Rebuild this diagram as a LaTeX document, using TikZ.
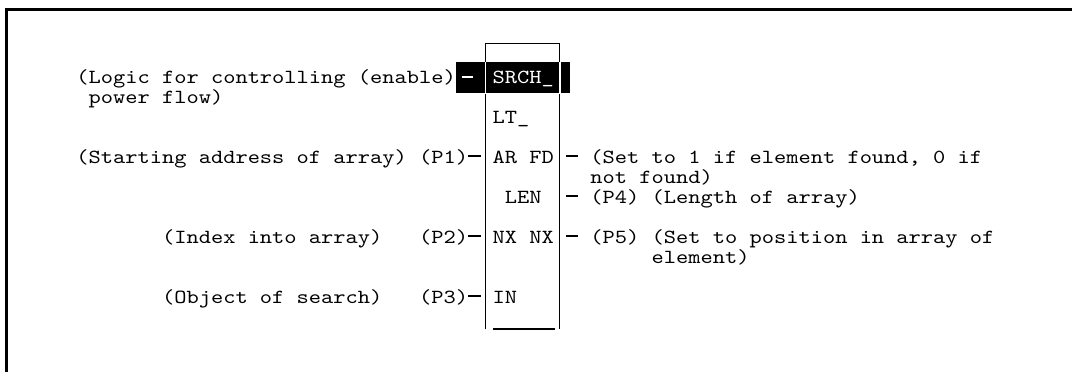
\documentclass[tikz,border=0pt]{standalone}
\usepackage{fontspec}
\newfontfamily\plcfont[FakeStretch=1.1657]{Latin Modern Mono}
\usepackage{tikz}
\usetikzlibrary{positioning,calc}

\begin{document}
\begin{tikzpicture}[
  x=6.12pt, y=-10pt,
  font=\plcfont\fontsize{10}{10}\selectfont,
  txt/.style={anchor=base west, inner sep=0pt},
  pin/.style={line width=0.6pt},
  frame/.style={line width=1.5pt},
  boxline/.style={line width=0.6pt}
]
  \useasboundingbox (-6.209,-4.15) rectangle (81.373,14.45);
  % outer frame (top and left only)
  \draw[frame] (-5.68,14.45) -- (-5.68,-3.675) -- (81.373,-3.675);

  % function block
  \node[inner sep=0pt, minimum width=36.72pt, minimum height=142.5pt] (blk) at (36.5,5.175) {};
  \draw[boxline] (blk.south west) -- (blk.north west) -- (blk.north east) -- (blk.south east);
  \draw[boxline] (34.07,12.3) -- (39.13,12.3);

  % highlighted enable row
  \fill[black] (31.05,-1.05) rectangle (40.36,0.5);
  \begin{scope}
    \clip (31.05,-1.05) rectangle (40.36,0.5);
    \draw[line width=0.8pt, white] (blk.south west) -- (blk.north west);
    \draw[line width=0.8pt, white] (blk.south east) -- (blk.north east);
  \end{scope}
  \node[txt, text=white] (srch) at (34,0) {SRCH\_};
  \draw[pin, white] (31.5,-0.3) -- (32.4,-0.3);

  % left side labels
  \node[txt] (logic) at (0,0) {(Logic for controlling (enable)};
  \node[txt] (power) at (1,1) {power flow)};
  \node[txt] (start) at (0,4) {(Starting address of array)};
  \node[txt] (p1) at (28,4) {(P1)};
  \node[txt] (index) at (7,8) {(Index into array)};
  \node[txt] (p2) at (28,8) {(P2)};
  \node[txt] (object) at (7,11) {(Object of search)};
  \node[txt] (p3) at (28,11) {(P3)};

  % block inside texts
  \node[txt] (lt) at (34,2) {LT\_};
  \node[txt] (arfd) at (34,4) {AR FD};
  \node[txt] (len) at (35,6) {LEN};
  \node[txt] (nxnx) at (34,8) {NX NX};
  \node[txt] (in) at (34,11) {IN};

  % right side labels
  \node[txt] (found) at (42,4) {(Set to 1 if element found, 0 if};
  \node[txt] (notfound) at (42,5) {not found)};
  \node[txt] (p4) at (42,6) {(P4) (Length of array)};
  \node[txt] (p5) at (42,8) {(P5) (Set to position in array of};
  \node[txt] (element) at (47,9) {element)};

  % pin stubs
  \foreach \n in {p1,p2,p3}
    \draw[pin] ([yshift=3.5pt]\n.base east) -- ++(1.05,0);
  \foreach \n in {found,p4,p5}
    \draw[pin] ([xshift=-6.12pt,yshift=3.5pt]\n.base west) -- ++(-1,0);
\end{tikzpicture}
\end{document}
